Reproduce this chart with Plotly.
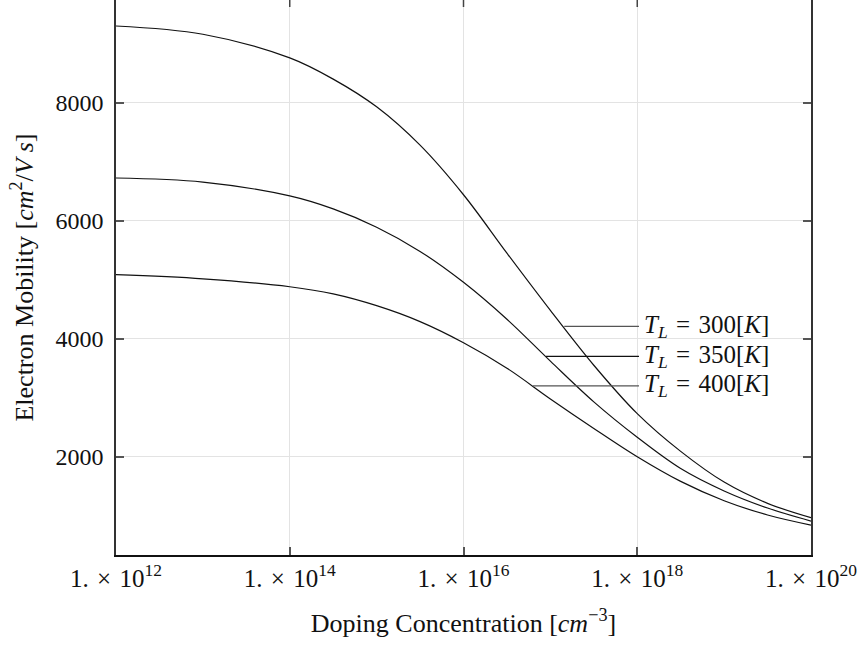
import plotly.graph_objects as go

# ---- data ----
log_doping = [12.0, 13.0, 14.0, 14.5, 15.0, 15.5, 16.0, 16.5, 17.0, 17.5, 18.0, 18.5, 19.0, 19.5, 20.0]
mu_300 = [9300, 9160, 8760, 8400, 7930, 7280, 6440, 5450, 4480, 3550, 2730, 2090, 1570, 1210, 966]
mu_350 = [6724, 6655, 6420, 6200, 5890, 5480, 4956, 4330, 3620, 2930, 2330, 1800, 1420, 1130, 909]
mu_400 = [5085, 5015, 4881, 4760, 4560, 4290, 3932, 3500, 2980, 2480, 2000, 1582, 1254, 1012, 841]

series_names = ["T_L = 300[K]", "T_L = 350[K]", "T_L = 400[K]"]
series_values = [mu_300, mu_350, mu_400]
label_temps = ["300", "350", "400"]
label_y = [4210, 3700, 3200]
label_start_log = [17.16, 16.95, 16.80]
label_end_log = 18.02

x_tick_exps = [12, 14, 16, 18, 20]
y_ticks = [2000, 4000, 6000, 8000]
x_range = [12, 20]
y_range = [334, 9741]

FONT = "Liberation Serif"
doping = [10.0 ** e for e in log_doping]

fig = go.Figure()
for name, vals in zip(series_names, series_values):
    fig.add_trace(go.Scatter(
        x=doping, y=vals, mode="lines", name=name,
        line=dict(color="#111111", width=1.2, shape="spline", smoothing=1.0),
        showlegend=False, hoverinfo="skip"))

# label leader lines
for ly, ls, col in zip(label_y, label_start_log, ["#555555", "#111111", "#555555"]):
    fig.add_trace(go.Scatter(
        x=[10.0 ** ls, 10.0 ** label_end_log], y=[ly, ly], mode="lines",
        line=dict(color=col, width=1.2), showlegend=False, hoverinfo="skip"))

# top-edge ticks (frame top lies just outside the view)
tick_len = (y_range[1] - y_range[0]) * 7 / 555
for e in x_tick_exps[1:-1]:
    fig.add_trace(go.Scatter(
        x=[10.0 ** e, 10.0 ** e], y=[y_range[1], y_range[1] - tick_len], mode="lines",
        line=dict(color="#444444", width=1.5), showlegend=False, hoverinfo="skip",
        cliponaxis=False))

for t, ly in zip(label_temps, label_y):
    fig.add_annotation(
        x=18.05, y=ly, xref="x", yref="y", xanchor="left", yanchor="middle",
        text=f"<i>T</i><sub><i>L</i></sub>\u2004=\u2004{t}[<i>K</i>]", showarrow=False,
        font=dict(family=FONT, size=25, color="#111111"))

fig.update_layout(
    width=859, height=647,
    margin=dict(l=116, r=48, t=0, b=92),
    plot_bgcolor="white", paper_bgcolor="white",
    font=dict(family=FONT, size=24, color="#111111"),
)
fig.update_xaxes(
    type="log", range=x_range,
    tickvals=[10.0 ** e for e in x_tick_exps],
    ticktext=[f"1.\u2004×\u200410<sup>{e}</sup>" for e in x_tick_exps],
    ticks="inside", ticklen=8, tickwidth=1.5, tickcolor="#555555",
    showgrid=True, gridcolor="#e3e3e3", gridwidth=1,
    showline=True, linecolor="#111111", linewidth=1.5, mirror=False,
    zeroline=False,
    title=dict(text="Doping Concentration [<i>cm</i><sup>−3</sup>]", standoff=23,
               font=dict(family=FONT, size=26)),
    tickfont=dict(family=FONT, size=25),
)
fig.update_yaxes(
    range=y_range, tickvals=y_ticks, ticktext=[str(v) for v in y_ticks],
    ticks="inside", ticklen=8, tickwidth=1.5, tickcolor="#555555",
    showgrid=True, gridcolor="#e3e3e3", gridwidth=1,
    showline=True, linecolor="#333333", linewidth=1.5, mirror="ticks",
    zeroline=False, ticklabelstandoff=6,
    title=dict(text="Electron Mobility [<i>cm</i><sup>2</sup>/<i>V s</i>]", standoff=14,
               font=dict(family=FONT, size=26)),
    tickfont=dict(family=FONT, size=24),
)

fig.write_html("out.html")
